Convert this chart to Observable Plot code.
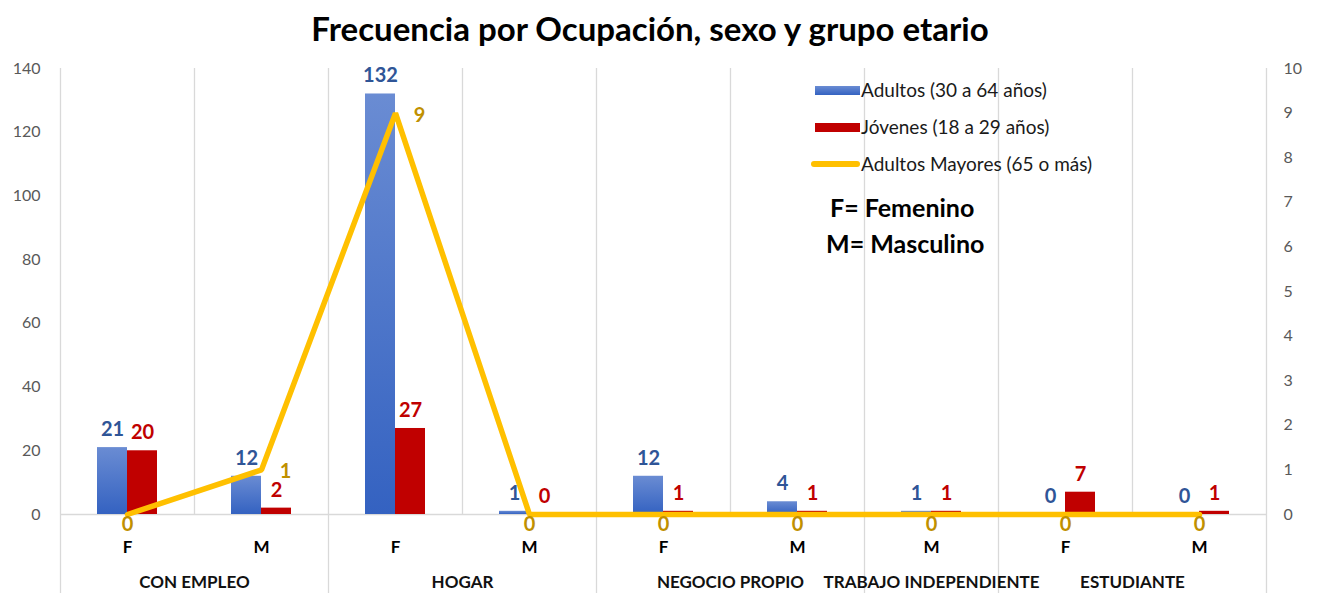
<!DOCTYPE html>
<html>
<head>
<meta charset="utf-8">
<script src="https://cdn.jsdelivr.net/npm/d3@7"></script>
<script src="https://cdn.jsdelivr.net/npm/@observablehq/plot@0.6"></script>
<style>
  html, body { margin: 0; padding: 0; background: #fff; }
  body { width: 1318px; height: 593px; position: relative; overflow: hidden; font-family: Lato, "Open Sans", sans-serif; }
  #title { position: absolute; left: 0; top: 8px; width: 1300px; text-align: center; font-size: 33px; font-weight: bold; color: #000; line-height: 40px; }
  #chart { position: absolute; left: 0; top: 50px; }
  .lg { position: absolute; font-size: 19px; color: #1a1a1a; white-space: nowrap; line-height: 22px; }
  .sw { position: absolute; }
  .note { position: absolute; font-size: 25px; font-weight: bold; color: #000; white-space: nowrap; line-height: 28px; }
</style>
</head>
<body>
<div id="title">Frecuencia por Ocupación, sexo y grupo etario</div>
<div id="chart"></div>
<div class="sw" style="left:815px;top:86px;width:45px;height:9px;background:linear-gradient(#6A8CD3,#3462C1);"></div>
<div class="lg" style="left:861px;top:79px;">Adultos (30 a 64 años)</div>
<div class="sw" style="left:815px;top:123px;width:45px;height:9px;background:#C00000;"></div>
<div class="lg" style="left:861px;top:116px;">Jóvenes (18 a 29 años)</div>
<div class="sw" style="left:811px;top:161px;width:49px;height:6px;border-radius:3px;background:#FFC000;"></div>
<div class="lg" style="left:861px;top:153px;">Adultos Mayores (65 o más)</div>
<div class="note" style="left:830px;top:193px;">F= Femenino</div>
<div class="note" style="left:826px;top:229px;">M= Masculino</div>
<script>
// ---- data ----
const sexo = ["F", "M", "F", "M", "F", "M", "M", "F", "M"];
const ocupaciones = ["CON EMPLEO", "HOGAR", "NEGOCIO PROPIO", "TRABAJO INDEPENDIENTE", "ESTUDIANTE"];
const ocupacionN = [2, 2, 2, 1, 2];
const adultos = [21, 12, 132, 1, 12, 4, 1, 0, 0];
const jovenes = [20, 2, 27, 0, 1, 1, 1, 7, 1];
const mayores = [0, 1, 9, 0, 0, 0, 0, 0, 0];
const ticksLeft = [0, 20, 40, 60, 80, 100, 120, 140];
const ticksRight = [0, 1, 2, 3, 4, 5, 6, 7, 8, 9, 10];

// ---- layout ----
const W = 1318, H = 543;
const mL = 60, mR = 52, mT = 18, mB = 79;
const bw = (W - mL - mR) / sexo.length;
const leftMax = 140, rightMax = 10, ratio = leftMax / rightMax;
const pxPerUnit = (H - mT - mB) / leftMax;

const idx = sexo.map((_, i) => i);
const rows = idx.map(i => ({i, s: sexo[i], a: adultos[i], j: jovenes[i], mv: mayores[i], m: mayores[i] * ratio}));

let start = 0;
const groups = ocupaciones.map((name, k) => {
  const g = {name, start, n: ocupacionN[k]};
  start += ocupacionN[k];
  return g;
});
const groupBounds = groups.map(g => g.start); // left edges of groups
const belowBottom = -(mB + 2) / pxPerUnit;

const gridColor = "#D9D9D9";
const labelFont = {fontSize: 20, fontWeight: "bold"};

const plot = Plot.plot({
  width: W,
  height: H,
  marginLeft: mL,
  marginRight: mR,
  marginTop: mT,
  marginBottom: mB,
  style: {fontFamily: "Lato, 'Open Sans', sans-serif", overflow: "visible"},
  x: {type: "band", domain: idx, padding: 0, axis: null},
  y: {domain: [0, leftMax], axis: null},
  marks: [
    // vertical gridlines at every category boundary (plot area)
    Plot.ruleX(idx, {x: d => d, y1: 0, y2: leftMax, dx: -bw / 2, stroke: gridColor, strokeWidth: 1.3}),
    Plot.ruleX([idx[idx.length - 1]], {x: d => d, y1: belowBottom, y2: leftMax, dx: bw / 2, stroke: gridColor, strokeWidth: 1.3}),
    // group boundaries extend through the label rows
    Plot.ruleX(groupBounds, {x: d => d, y1: belowBottom, y2: 0, dx: -bw / 2, stroke: gridColor, strokeWidth: 1.3}),
    Plot.ruleY([0], {stroke: gridColor, strokeWidth: 1.5}),
    // axes
    Plot.axisY({anchor: "left", ticks: ticksLeft, tickSize: 0, tickPadding: 20, fontSize: 16, fill: "#595959"}),
    Plot.axisY({anchor: "right", ticks: ticksRight.map(t => t * ratio), tickFormat: t => String(Math.round(t / ratio)), tickSize: 0, tickPadding: 17, fontSize: 16, fill: "#595959"}),
    // bars
    Plot.barY(rows, {x: "i", y: "a", fill: "url(#gradBlue)", insetLeft: bw / 2 - 30, insetRight: bw / 2}),
    Plot.barY(rows, {x: "i", y: "j", fill: "#C00000", insetLeft: bw / 2, insetRight: bw / 2 - 30}),
    // line (secondary axis)
    Plot.line(rows, {x: "i", y: "m", stroke: "#FFC000", strokeWidth: 5.5, strokeLinejoin: "miter"}),
    // bar labels
    Plot.text(rows, {x: "i", y: "a", text: d => String(d.a), dx: -15, dy: -18, fill: "#2F5597", ...labelFont}),
    Plot.text(rows, {x: "i", y: "j", text: d => String(d.j), dx: 15, dy: -18, fill: "#C00000", ...labelFont}),
    // line labels
    Plot.text(rows.filter(d => d.mv > 0), {x: "i", y: "m", text: d => String(d.mv), dx: 24, dy: 2, fill: "#BF9000", ...labelFont}),
    Plot.text(rows.filter(d => d.mv === 0), {x: "i", y: "m", text: d => String(d.mv), dy: 10, fill: "#BF9000", ...labelFont}),
    // category labels
    Plot.text(rows, {x: "i", y: 0, text: "s", dy: 33, fill: "#000", fontSize: 17, fontWeight: "bold"}),
    // occupation labels: centred over their span of categories
    Plot.text(groups.filter(g => g.n === 1), {x: "start", y: 0, text: "name", dy: 68, fill: "#111", fontSize: 17, fontWeight: "bold"}),
    Plot.text(groups.filter(g => g.n === 2), {x: "start", y: 0, text: "name", dx: bw / 2, dy: 68, fill: "#111", fontSize: 17, fontWeight: "bold"})
  ]
});

const svg = d3.select(plot);
const defs = svg.insert("defs", ":first-child");
const grad = defs.append("linearGradient").attr("id", "gradBlue").attr("x1", 0).attr("y1", 0).attr("x2", 0).attr("y2", 1);
grad.append("stop").attr("offset", "0%").attr("stop-color", "#6A8CD3");
grad.append("stop").attr("offset", "100%").attr("stop-color", "#3462C1");

document.getElementById("chart").appendChild(plot);
</script>
</body>
</html>
